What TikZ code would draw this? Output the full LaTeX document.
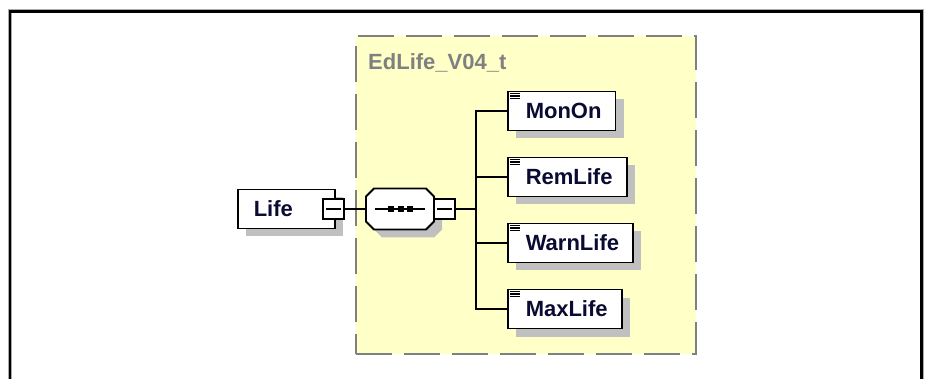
\documentclass[tikz,border=0pt]{standalone}
\usepackage{fontspec}
\setmainfont{Liberation Sans}
\usetikzlibrary{shadows,calc}
\definecolor{yel}{RGB}{255,255,200}
\definecolor{dashgray}{RGB}{128,128,128}
\definecolor{shadowgray}{RGB}{192,192,192}
\definecolor{txt}{RGB}{10,10,50}
\definecolor{framegray}{RGB}{170,170,170}
\tikzset{
  elem/.style={draw=black, line width=1.9pt, fill=white, minimum height=39pt,
    inner xsep=0pt, inner ysep=0pt, text height=15pt, text depth=0pt,
    font=\fontsize{22}{26}\selectfont\bfseries, text=txt,
    drop shadow={shadow xshift=8pt, shadow yshift=-8pt, opacity=1, fill=shadowgray}},
  btn/.style={draw=black, line width=1.5pt, fill=white, minimum width=21pt,
    minimum height=20pt, inner sep=0pt},
  conn/.style={line width=1.9pt, black},
  icon/.style={line width=1.3pt, black},
}
\begin{document}
\begin{tikzpicture}[x=1pt,y=-1pt]
\useasboundingbox (0,0) rectangle (931,379);
\fill[white] (0,0) rectangle (931,379);
% outer frame
\draw[framegray, line width=4pt] (10,390) -- (10,11.5) -- (921.5,11.5) -- (921.5,390);
\draw[black, line width=2.6pt] (10,390) -- (10,11.5) -- (921.5,11.5) -- (921.5,390);
% type box
\node[draw=dashgray, fill=yel, line width=2.2pt, dash pattern=on 36pt off 12pt,
  minimum width=340pt, minimum height=318pt, inner sep=0pt, anchor=north west]
  (typebox) at (355,35) {};
\node[anchor=base west, font=\fontsize{22}{26}\selectfont\bfseries, text=dashgray, inner sep=0pt]
  (title) at (368,70) {EdLife\_V04\_t};
% Life element
\node[elem, anchor=west] (life) at (236.8,209) {\kern16pt Life\kern42pt};
\node[btn] (lifebtn) at (333.5,209) {};
\draw[line width=1.5pt] ($(lifebtn.west)+(4,0)$) -- ($(lifebtn.east)+(-4,0)$);
% sequence compositor
\node[minimum width=68pt, minimum height=41pt, inner sep=0pt] (seq) at (400,209) {};
\fill[shadowgray, shift={(8,8)}] (374,188.5) -- (426,188.5) -- (434,196.5) -- (434,221.5)
  -- (426,229.5) -- (374,229.5) -- (366,221.5) -- (366,196.5) -- cycle;
\draw[fill=white, line width=1.9pt] (374,188.5) -- (426,188.5) -- (434,196.5) -- (434,221.5)
  -- (426,229.5) -- (374,229.5) -- (366,221.5) -- (366,196.5) -- cycle;
\draw[line width=1.7pt] ($(seq.center)+(-25,0)$) -- ($(seq.center)+(25,0)$);
\foreach \dx in {-9,0.5,10}{
  \fill ($(seq.center)+(\dx,0)+(-3,-2.6)$) rectangle ($(seq.center)+(\dx,0)+(3,2.6)$);
}
\node[btn] (seqbtn) at (444.5,209) {};
\draw[line width=1.5pt] ($(seqbtn.west)+(4,0)$) -- ($(seqbtn.east)+(-4,0)$);
\coordinate (bus) at (476,209);
% children
\node[elem, anchor=west] (monon) at (506.8,111) {\kern18pt MonOn\kern14pt};
\node[elem, anchor=west] (remlife) at (506.8,177) {\kern18pt RemLife\kern14pt};
\node[elem, anchor=west] (warnlife) at (506.8,243) {\kern18pt WarnLife\kern14pt};
\node[elem, anchor=west] (maxlife) at (506.8,309) {\kern18pt MaxLife\kern14pt};
\foreach \n in {monon,remlife,warnlife,maxlife}{
  \foreach \dy in {3,5.5,8}{
    \draw[icon] ($(\n.north west)+(3,\dy)$) -- ($(\n.north west)+(13,\dy)$);
  }
}
% connectors
\draw[conn] (lifebtn.east) -- (seq.west);
\draw[conn] (seqbtn.east) -- (bus);
\draw[conn] (bus) |- (monon.west);
\draw[conn] (bus) |- (remlife.west);
\draw[conn] (bus) |- (warnlife.west);
\draw[conn] (bus) |- (maxlife.west);
\end{tikzpicture}
\end{document}
